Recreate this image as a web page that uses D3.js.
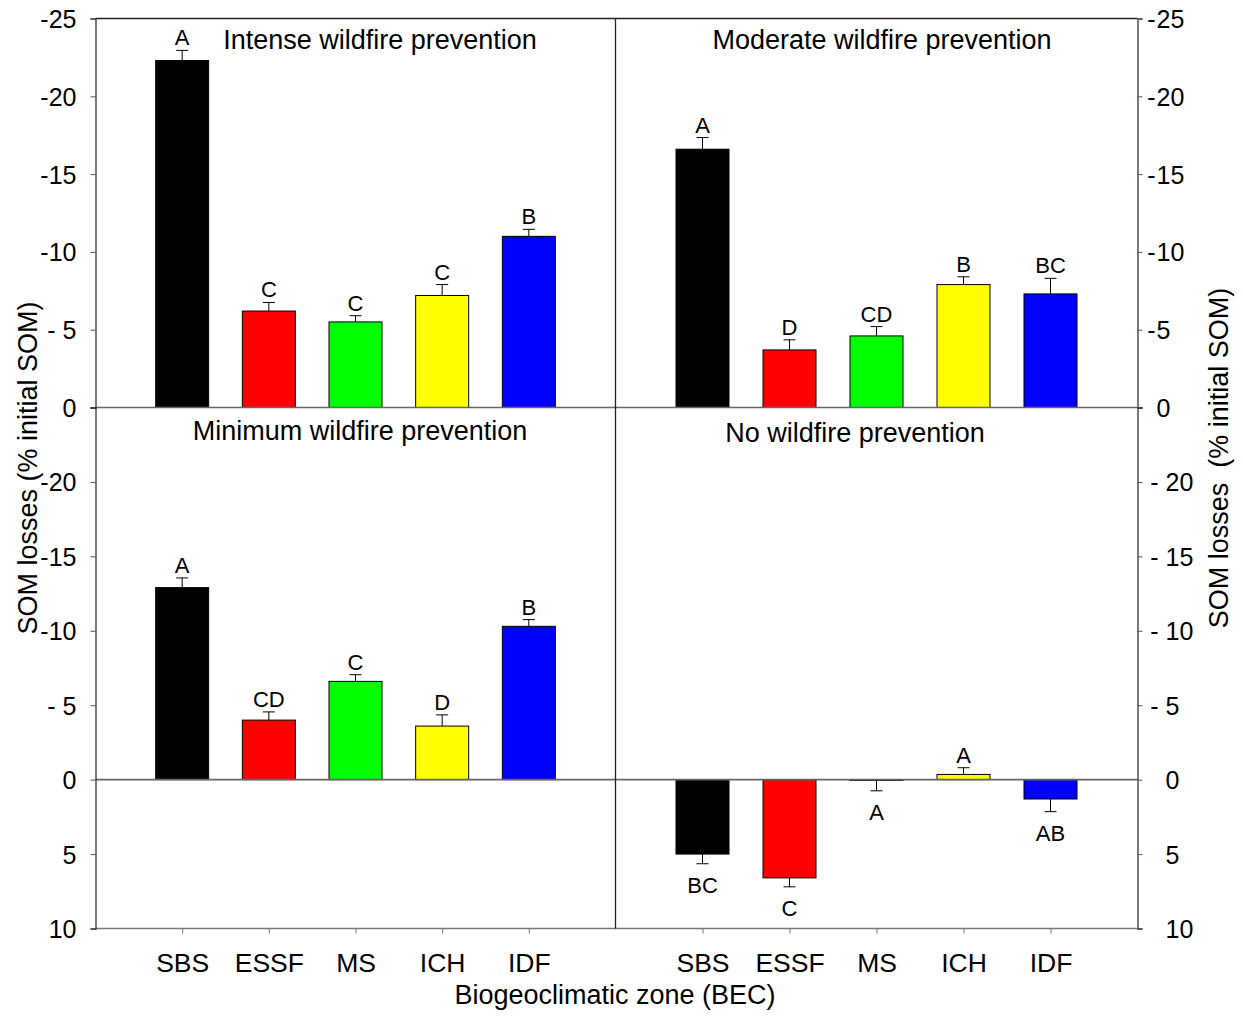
<!DOCTYPE html>
<html><head><meta charset="utf-8">
<script src="https://cdn.jsdelivr.net/npm/d3@7"></script>
<style>body{margin:0;background:#fff}svg{display:block}text{font-family:"Liberation Sans",Arial,sans-serif;fill:#000}</style>
</head><body><svg id="c" width="1243" height="1017"></svg>
<script>
const categories = ["SBS","ESSF","MS","ICH","IDF"];
const colors = ["#000000","#ff0000","#00ff00","#ffff00","#0000ff"];
const intenseVals = [-22.3,-6.2,-5.5,-7.2,-11.0];
const intenseErr  = [0.65,0.55,0.4,0.7,0.45];
const intenseLet  = ["A","C","C","C","B"];
const moderateVals = [-16.6,-3.7,-4.6,-7.9,-7.3];
const moderateErr  = [0.75,0.65,0.6,0.5,1.0];
const moderateLet  = ["A","D","CD","B","BC"];
const minimumVals = [-12.9,-4.0,-6.6,-3.6,-10.3];
const minimumErr  = [0.65,0.55,0.45,0.75,0.45];
const minimumLet  = ["A","CD","C","D","B"];
const noneVals = [5.0,6.6,0.05,-0.35,1.3];
const noneErr  = [0.65,0.6,0.7,0.45,0.85];
const noneLet  = ["BC","C","A","A","AB"];
const panelTitles = ["Intense wildfire prevention","Moderate wildfire prevention","Minimum wildfire prevention","No wildfire prevention"];
const topTicks = [-25,-20,-15,-10,-5,0];
const topLeftLabels = ["-25","-20","-15","-10","- 5","0"];
const topRightLabels = ["-25","-20","-15","-10","-5","0"];
const botTicks = [-20,-15,-10,-5,0,5,10];
const botLeftLabels = ["-20","-15","-10","- 5","0","5","10"];
const botRightLabels = ["- 20","- 15","- 10","- 5","0","5","10"];

const svg = d3.select("#c");
const L = 95.5, M = 615.5, R = 1137.5, T = 18.5, Z = 407.5, B = 928.5;
const yTop = d3.scaleLinear().domain([0,-25]).range([Z,T]);
const yBot = d3.scaleLinear().domain([10,-25]).range([B,Z]);
const xLeft = d3.scalePoint().domain(categories).range([L,M]).padding(1);
const xRight = d3.scalePoint().domain(categories).range([M,R]).padding(1);
const barW = 53;
const FONT = "Liberation Sans, Arial, sans-serif";

function drawPanel(x, y, vals, errs, lets) {
  const g = svg.append("g");
  categories.forEach((c,i) => {
    const v = vals[i], e = errs[i];
    const y0 = y(0), y1 = y(v);
    const cx = x(c);
    g.append("rect").attr("x", cx-barW/2).attr("y", Math.min(y0,y1)).attr("width", barW)
      .attr("height", Math.max(Math.abs(y1-y0),0.8)).attr("fill", colors[i]).attr("stroke","#000").attr("stroke-width",1);
    const ye = y(v + (v<0 ? -e : e));
    g.append("line").attr("x1",cx).attr("x2",cx).attr("y1",y1).attr("y2",ye).attr("stroke","#000").attr("stroke-width",1);
    g.append("line").attr("x1",cx-6).attr("x2",cx+6).attr("y1",ye).attr("y2",ye).attr("stroke","#000").attr("stroke-width",1);
    g.append("text").attr("x",cx).attr("y", v<0 ? ye-5 : ye+29).attr("text-anchor","middle")
      .attr("font-size",22).text(lets[i]);
  });
}
drawPanel(xLeft, yTop, intenseVals, intenseErr, intenseLet);
drawPanel(xRight, yTop, moderateVals, moderateErr, moderateLet);
drawPanel(xLeft, yBot, minimumVals, minimumErr, minimumLet);
drawPanel(xRight, yBot, noneVals, noneErr, noneLet);

// zero lines and frame
[yTop(0), yBot(0)].forEach(yy => svg.append("line").attr("x1",L).attr("x2",R).attr("y1",yy).attr("y2",yy).attr("stroke","#666").attr("stroke-width",1.6));
svg.append("line").attr("x1",L).attr("x2",R).attr("y1",B).attr("y2",B).attr("stroke","#777").attr("stroke-width",1.5);
svg.append("line").attr("x1",L).attr("x2",R).attr("y1",T).attr("y2",T).attr("stroke","#222").attr("stroke-width",1.3);
svg.append("line").attr("x1",M).attr("x2",M).attr("y1",T).attr("y2",B).attr("stroke","#222").attr("stroke-width",1.3);

function styleTicks(g){
  g.select(".domain").attr("stroke","#333").attr("stroke-width",1.3);
  g.selectAll(".tick line").attr("stroke","#555");
  g.selectAll(".tick text").attr("font-size",25).attr("font-family",FONT).attr("fill","#000").attr("dy","0.36em");
}
function leftAxis(scale, ticks, labels) {
  const g = svg.append("g").attr("transform",`translate(${L},0)`)
    .call(d3.axisLeft(scale).tickValues(ticks).tickSize(5).tickPadding(14).tickFormat((d,i)=>labels[i]));
  styleTicks(g);
}
leftAxis(yTop, topTicks, topLeftLabels);
leftAxis(yBot, botTicks, botLeftLabels);

function rightAxis(scale, ticks, labels, numX, signX) {
  const g = svg.append("g").attr("transform",`translate(${R},0)`)
    .call(d3.axisRight(scale).tickValues(ticks).tickSize(5).tickPadding(numX-5).tickFormat((d,i)=>labels[i].replace(/^-\s?/,"")));
  styleTicks(g);
  g.selectAll(".tick").each(function(d,i){
    if (labels[i].startsWith("-")) {
      d3.select(this).append("text").attr("x",signX).attr("dy","0.36em").attr("text-anchor","end")
        .attr("font-size",25).attr("font-family",FONT).attr("fill","#000").text("-");
    }
  });
}
rightAxis(yTop, topTicks, topRightLabels, 19, 18);
rightAxis(yBot, botTicks, botRightLabels, 28, 21);

// x axes
[xLeft, xRight].forEach(x => {
  const g = svg.append("g").attr("transform",`translate(0,${B})`)
    .call(d3.axisBottom(x).tickSize(5).tickPadding(20));
  g.select(".domain").remove();
  g.selectAll(".tick line").attr("stroke","#777");
  g.selectAll(".tick text").attr("font-size",26.5).attr("font-family",FONT).attr("fill","#000").attr("dy","0.71em");
});

// titles
const titlePos = [[380,49],[882,49],[360,440],[855,442]];
panelTitles.forEach((t,i)=>svg.append("text").attr("x",titlePos[i][0]).attr("y",titlePos[i][1])
  .attr("text-anchor","middle").attr("font-size",27).text(t));

svg.append("text").attr("x",615).attr("y",1004).attr("text-anchor","middle").attr("font-size",27).text("Biogeoclimatic zone (BEC)");
svg.append("text").attr("transform","translate(37,468) rotate(-90)").attr("text-anchor","middle").attr("font-size",27).text("SOM losses (% initial SOM)");
svg.append("text").attr("transform","translate(1228,458) rotate(-90)").attr("text-anchor","middle").attr("font-size",27).style("white-space","pre").text("SOM losses  (% initial SOM)");
</script></body></html>
